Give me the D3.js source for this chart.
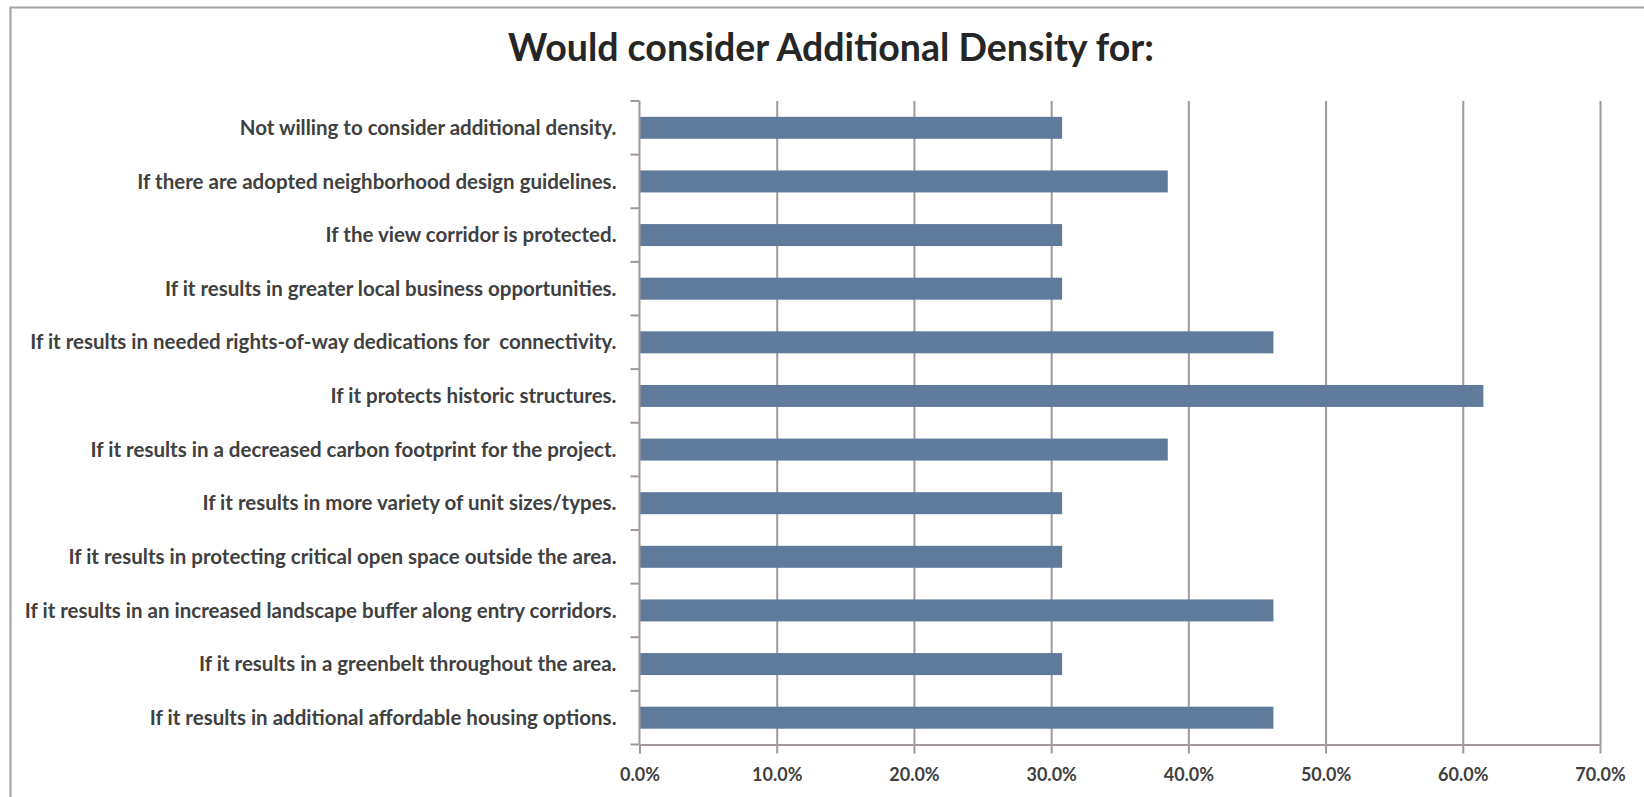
<!DOCTYPE html>
<html>
<head>
<meta charset="utf-8">
<script src="https://cdn.jsdelivr.net/npm/d3@7"></script>
<style>
  body { margin: 0; background: #fff; }
  svg { display: block; }
  text { font-family: Lato, "Open Sans", sans-serif; }
</style>
</head>
<body>
<script>
var width  = 1644;
var height = 797;

var chartTitle = 'Would consider Additional Density for:';

// categories from top to bottom, as shown
var categories = [
  'Not willing to consider additional density.',
  'If there are adopted neighborhood design guidelines.',
  'If the view corridor is protected.',
  'If it results in greater local business opportunities.',
  'If it results in needed rights-of-way dedications for  connectivity.',
  'If it protects historic structures.',
  'If it results in a decreased carbon footprint for the project.',
  'If it results in more variety of unit sizes/types.',
  'If it results in protecting critical open space outside the area.',
  'If it results in an increased landscape buffer along entry corridors.',
  'If it results in a greenbelt throughout the area.',
  'If it results in additional affordable housing options.'
];
var shares = [0.308, 0.385, 0.308, 0.308, 0.462, 0.615, 0.385, 0.308, 0.308, 0.462, 0.308, 0.462];
var xTicks = [0, 0.1, 0.2, 0.3, 0.4, 0.5, 0.6, 0.7];

var plot = { left: 639.5, right: 1600, top: 101, bottom: 744.5 };

var x = d3.scaleLinear().domain([0, 0.7]).range([plot.left, plot.right]);
var y = d3.scaleBand().domain(categories).range([plot.top, plot.bottom])
  .paddingInner(0.59).paddingOuter(0.295);

var svg = d3.select('body').append('svg')
  .attr('width', width)
  .attr('height', height)
  .attr('viewBox', [0, 0, width, height].join(' '));

// outer frame (top and left edges visible)
svg.append('path')
  .attr('d', 'M10.5,' + (height + 5) + 'V7.5H' + (width + 5))
  .attr('fill', 'none')
  .attr('stroke', '#aca4a4')
  .attr('stroke-width', 2.2);

svg.append('text')
  .attr('x', 831)
  .attr('y', 61)
  .attr('text-anchor', 'middle')
  .style('font-size', '37.5px')
  .style('font-weight', 700)
  .style('fill', '#262626')
  .text(chartTitle);

// vertical gridlines
svg.append('g')
  .attr('transform', 'translate(0,' + plot.bottom + ')')
  .call(d3.axisBottom(x).tickValues(xTicks.slice(1)).tickSize(-(plot.bottom - plot.top)).tickFormat(''))
  .call(function (g) {
    g.select('.domain').remove();
    g.selectAll('line').attr('stroke', '#a39898').attr('stroke-width', 2);
  });

// bars
svg.append('g').selectAll('rect')
  .data(categories)
  .enter().append('rect')
  .attr('x', x(0))
  .attr('y', function (d) { return y(d); })
  .attr('width', function (d, i) { return x(shares[i]) - x(0); })
  .attr('height', y.bandwidth())
  .attr('fill', '#607a9c');

// x axis
svg.append('g')
  .attr('transform', 'translate(0,' + plot.bottom + ')')
  .call(d3.axisBottom(x).tickValues(xTicks).tickSize(9).tickSizeOuter(0).tickPadding(15).tickFormat(d3.format('.1%')))
  .call(function (g) {
    g.select('.domain').attr('stroke', '#a39898').attr('stroke-width', 2);
    g.selectAll('line').attr('stroke', '#a39898').attr('stroke-width', 2);
    g.selectAll('text')
      .style('font-size', '18px')
      .style('font-weight', 700)
      .style('font-family', 'Lato, sans-serif')
      .attr('fill', '#404040');
  });

// y axis: line at 0% with ticks between categories
var yAxis = svg.append('g');
yAxis.append('line')
  .attr('x1', x(0)).attr('x2', x(0))
  .attr('y1', plot.top).attr('y2', plot.bottom)
  .attr('stroke', '#a39898').attr('stroke-width', 2);
yAxis.selectAll('.sep')
  .data(d3.range(categories.length + 1))
  .enter().append('line')
  .attr('class', 'sep')
  .attr('x1', x(0) - 9).attr('x2', x(0))
  .attr('y1', function (i) { return plot.top + i * y.step(); })
  .attr('y2', function (i) { return plot.top + i * y.step(); })
  .attr('stroke', '#a39898').attr('stroke-width', 2);
yAxis.selectAll('.lbl')
  .data(categories)
  .enter().append('text')
  .attr('class', 'lbl')
  .attr('x', x(0) - 23)
  .attr('y', function (d) { return y(d) + y.bandwidth() / 2; })
  .attr('dy', '0.35em')
  .attr('text-anchor', 'end')
  .style('font-size', '20.5px')
  .style('font-weight', 700)
  .style('fill', '#404040')
  .style('white-space', 'pre')
  .text(function (d) { return d; });
</script>
</body>
</html>
